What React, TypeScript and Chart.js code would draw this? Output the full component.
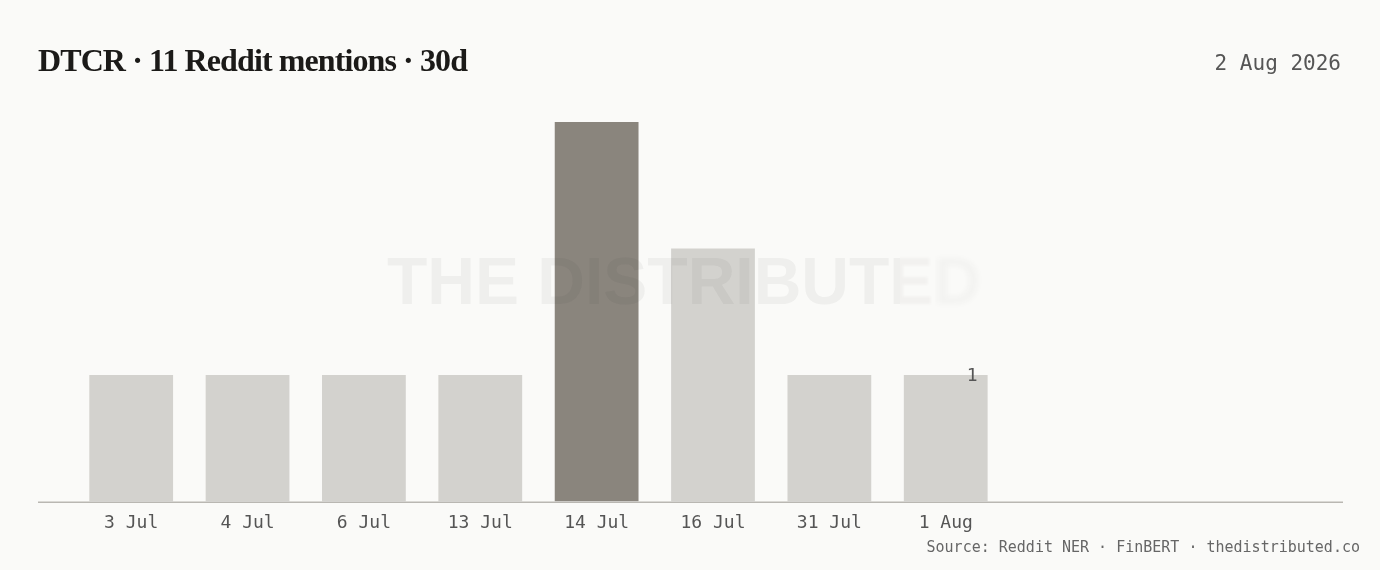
import React, { useEffect, useRef } from 'react';
import { Chart, registerables } from 'chart.js';

Chart.register(...registerables);

const categories = ['3 Jul', '4 Jul', '6 Jul', '13 Jul', '14 Jul', '16 Jul', '31 Jul', '1 Aug'];
const mentions = [1, 1, 1, 1, 3, 2, 1, 1];
const emptySlots = ['', '', ''];
const yMax = 3;
const titleText = 'DTCR · 11 Reddit mentions · 30d';
const dateText = '2 Aug 2026';
const sourceText = 'Source: Reddit NER · FinBERT · thedistributed.co';
const watermarkText = 'THE DISTRIBUTED';

const BG = '#fafaf8';
const LIGHT = '#d3d2ce';
const DARK = '#8a857d';
const MONO = '"DejaVu Sans Mono", "Liberation Mono", monospace';

const overlayPlugin = {
  id: 'overlay',
  afterDatasetsDraw(chart: any) {
    const { ctx, chartArea } = chart;
    // baseline
    ctx.save();
    ctx.strokeStyle = '#b9b7b2';
    ctx.lineWidth = 1.5;
    ctx.beginPath();
    ctx.moveTo(38, chartArea.bottom + 0.75);
    ctx.lineTo(1343, chartArea.bottom + 0.75);
    ctx.stroke();
    ctx.restore();

    // watermark
    const cx = 684;
    const cy = 286;
    const segs = [
      { x0: 0, x1: 900, blur: 0, a: 0.05 },
      { x0: 900, x1: 935, blur: 1.2, a: 0.04 },
      { x0: 935, x1: 1380, blur: 2.5, a: 0.032 },
    ];
    segs.forEach((s) => {
      ctx.save();
      ctx.beginPath();
      ctx.rect(s.x0, 0, s.x1 - s.x0, 570);
      ctx.clip();
      if (s.blur) ctx.filter = `blur(${s.blur}px)`;
      ctx.fillStyle = `rgba(40,35,30,${s.a})`;
      ctx.font = 'bold 66px "Liberation Sans", Arial, sans-serif';
      ctx.textAlign = 'center';
      ctx.textBaseline = 'middle';
      ctx.fillText(watermarkText, cx, cy);
      ctx.restore();
    });

    // last value label
    const meta = chart.getDatasetMeta(0);
    const last = meta.data[meta.data.length - 1];
    if (last) {
      ctx.save();
      ctx.fillStyle = '#555';
      ctx.font = `18px ${MONO}`;
      ctx.textAlign = 'right';
      ctx.textBaseline = 'middle';
      ctx.fillText(String(mentions[mentions.length - 1]), last.x + last.width / 2 - 10, last.y + 1);
      ctx.restore();
    }
  },
};

export default function App() {
  const ref = useRef<HTMLCanvasElement | null>(null);

  useEffect(() => {
    document.body.style.margin = '0';
    document.body.style.background = BG;
    if (!ref.current) return;
    const maxVal = Math.max(...mentions);
    const chart = new Chart(ref.current, {
      type: 'bar',
      data: {
        labels: [...categories, ...emptySlots],
        datasets: [
          {
            data: mentions,
            backgroundColor: mentions.map((v) => (v === maxVal ? DARK : LIGHT)),
            borderWidth: 0,
            barPercentage: 0.72,
            categoryPercentage: 1,
          },
        ],
      },
      options: {
        animation: false,
        responsive: false,
        layout: { padding: { left: 73, right: 27, top: 122, bottom: 33 } },
        plugins: { legend: { display: false }, tooltip: { enabled: false }, title: { display: false } },
        scales: {
          x: {
            grid: { display: false },
            border: { display: false },
            ticks: {
              color: '#555',
              font: { family: MONO, size: 18 },
              padding: 3,
              autoSkip: false,
              maxRotation: 0,
            },
          },
          y: { display: false, min: 0, max: yMax },
        },
      },
      plugins: [overlayPlugin],
    });
    return () => chart.destroy();
  }, []);

  return (
    <div style={{ position: 'relative', width: 1380, height: 570, background: BG, overflow: 'hidden' }}>
      <canvas ref={ref} width={1380} height={570} style={{ position: 'absolute', left: 0, top: 0 }} />
      <div
        style={{
          position: 'absolute',
          left: 38,
          top: 44,
          fontFamily: '"Liberation Serif", "DejaVu Serif", serif',
          fontWeight: 700,
          fontSize: 32,
          lineHeight: 1,
          letterSpacing: -0.9,
          color: '#1b1a18',
          whiteSpace: 'nowrap',
        }}
      >
        {titleText}
      </div>
      <div
        style={{
          position: 'absolute',
          right: 39,
          top: 53,
          fontFamily: MONO,
          fontSize: 21,
          lineHeight: 1,
          color: '#555',
          whiteSpace: 'nowrap',
        }}
      >
        {dateText}
      </div>
      <div
        style={{
          position: 'absolute',
          right: 20,
          top: 540,
          fontFamily: MONO,
          fontSize: 15,
          lineHeight: 1,
          color: '#666',
          whiteSpace: 'nowrap',
        }}
      >
        {sourceText}
      </div>
    </div>
  );
}
